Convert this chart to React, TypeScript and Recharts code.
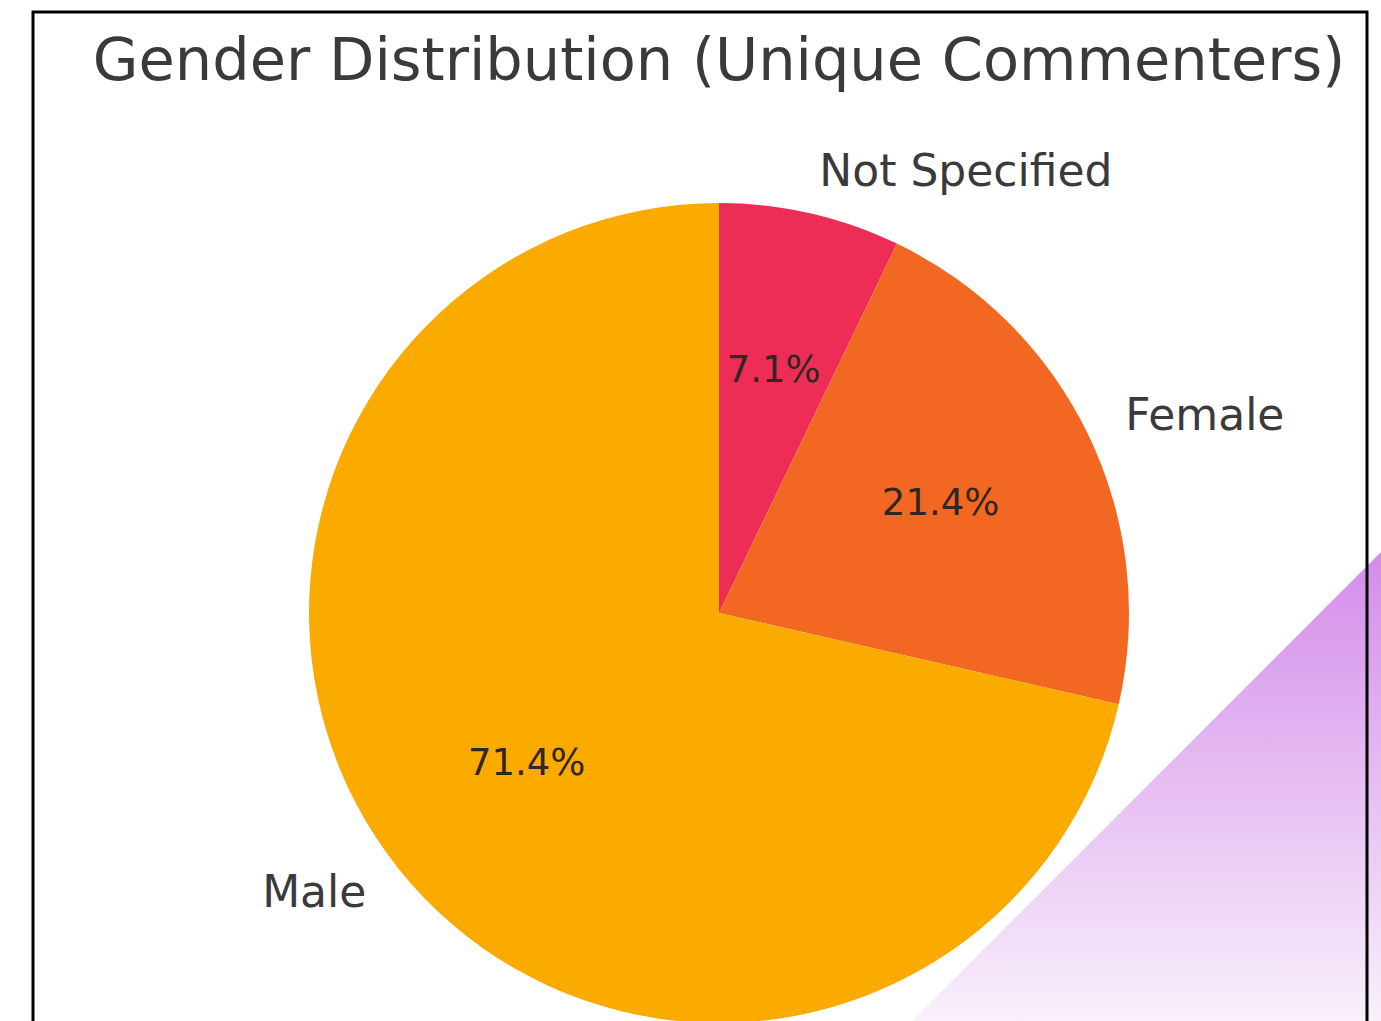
import { PieChart, Pie, Cell } from "recharts";

// unique commenters by gender (counts: 1 / 3 / 10 of 14)
const GENDERS = ["Not Specified", "Female", "Male"];
const COUNTS = [1, 3, 10];
const COLORS = ["#EE2D56", "#F26822", "#FBAB00"];

const TITLE = "Gender Distribution (Unique Commenters)";

const data = GENDERS.map((name, i) => ({ name, value: COUNTS[i] }));

const FONT = "'DejaVu Sans', Verdana, sans-serif";
const RADIAN = Math.PI / 180;

// matplotlib-style labels: name at 1.1r, percentage at 0.6r
function renderLabel(props: any) {
  const { cx, cy, midAngle, outerRadius, percent, name } = props;
  const cos = Math.cos(-midAngle * RADIAN);
  const sin = Math.sin(-midAngle * RADIAN);
  const ox = cx + outerRadius * 1.1 * cos;
  const oy = cy + outerRadius * 1.1 * sin;
  const ix = cx + outerRadius * 0.6 * cos;
  const iy = cy + outerRadius * 0.6 * sin;
  return (
    <g>
      <text
        x={ox}
        y={oy - 3}
        fill="#3a3a3a"
        fontSize={44}
        fontFamily={FONT}
        textAnchor={cos >= 0 ? "start" : "end"}
        dominantBaseline="central"
      >
        {name}
      </text>
      <text
        x={ix}
        y={iy - 4}
        fill="#30271f"
        fontSize={37}
        fontFamily={FONT}
        textAnchor="middle"
        dominantBaseline="central"
      >
        {(percent * 100).toFixed(1)}%
      </text>
    </g>
  );
}

export default function App() {
  return (
    <div style={{ position: "absolute", left: 0, top: 0, width: 1381, height: 1021, background: "#fff", overflow: "hidden" }}>
      <PieChart width={1381} height={1021} margin={{ top: 0, right: 0, bottom: 0, left: 0 }}>
        <Pie
          data={data}
          dataKey="value"
          nameKey="name"
          cx={719}
          cy={613}
          outerRadius={410}
          startAngle={90}
          endAngle={-270}
          stroke="none"
          label={renderLabel}
          labelLine={false}
          isAnimationActive={false}
        >
          {data.map((d, i) => (
            <Cell key={d.name} fill={COLORS[i]} />
          ))}
        </Pie>
      </PieChart>

      <svg
        width={1381}
        height={1021}
        style={{ position: "absolute", left: 0, top: 0, pointerEvents: "none" }}
      >
        <defs>
          <linearGradient id="corner" x1="0" y1="552" x2="0" y2="1021" gradientUnits="userSpaceOnUse">
            <stop offset="0" stopColor="#D48CEA" />
            <stop offset="1" stopColor="#F8F0FB" />
          </linearGradient>
        </defs>
        <polygon points="1381,552 1381,1021 912,1021" fill="url(#corner)" />
        <polyline
          points="33,1030 33,12 1367,12 1367,1030"
          fill="none"
          stroke="#000"
          strokeWidth={3}
        />
        <text x={719} y={80} textAnchor="middle" fill="#3a3a3a" fontSize={59} fontFamily={FONT}>
          {TITLE}
        </text>
      </svg>
    </div>
  );
}
